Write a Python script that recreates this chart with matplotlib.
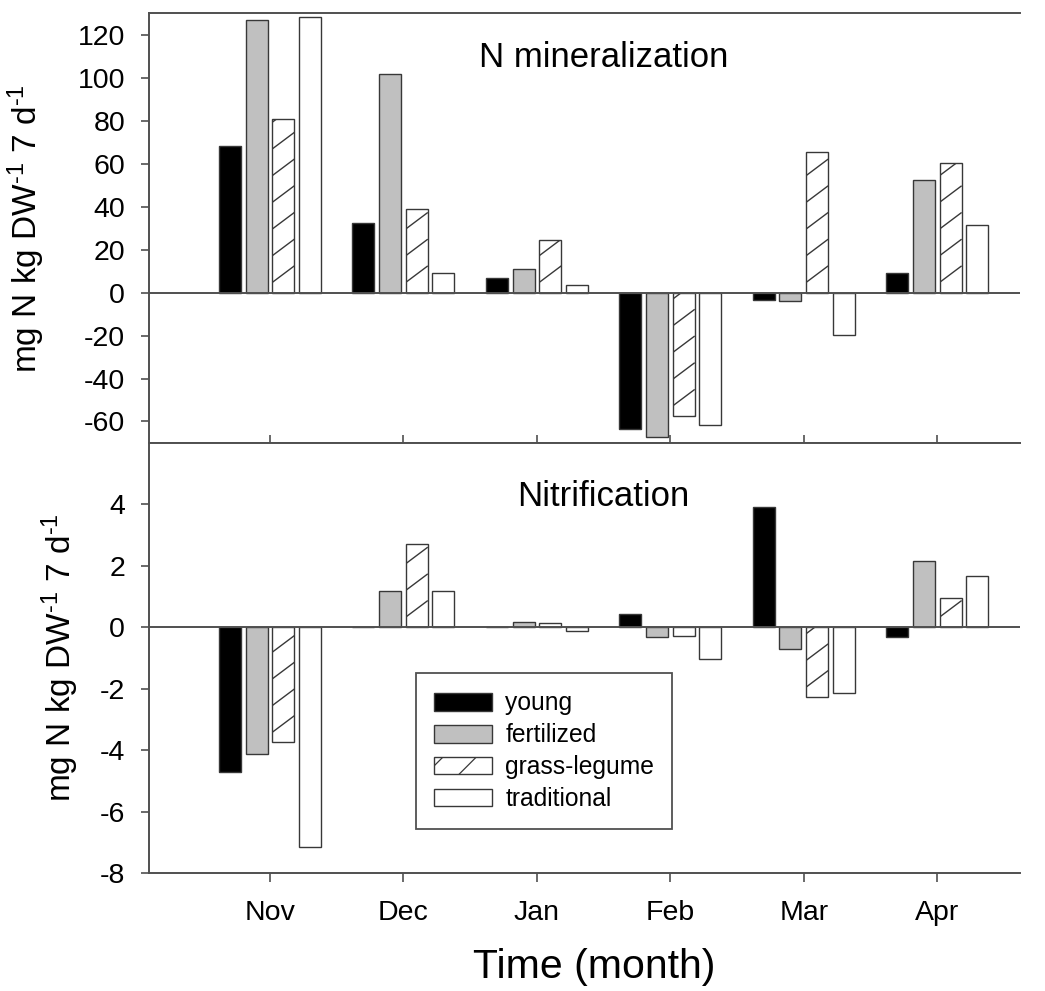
import numpy as np
import matplotlib
matplotlib.use("Agg")
import matplotlib.pyplot as plt
from matplotlib.collections import LineCollection
from matplotlib.transforms import IdentityTransform
from matplotlib.patches import Patch

plt.rcParams["font.family"] = ["Liberation Sans", "DejaVu Sans"]
plt.rcParams["mathtext.fontset"] = "custom"
plt.rcParams["mathtext.rm"] = "Liberation Sans"
plt.rcParams["mathtext.it"] = "Liberation Sans:italic"
plt.rcParams["mathtext.default"] = "regular"
plt.rcParams["axes.unicode_minus"] = False
plt.rcParams["hatch.linewidth"] = 0.9

# ---- data -------------------------------------------------------------
months = ["Nov", "Dec", "Jan", "Feb", "Mar", "Apr"]
treatments = ["young", "fertilized", "grass-legume", "traditional"]

mineral_young = [68.0, 32.6, 6.8, -63.4, -3.6, 9.0]
mineral_fertilized = [127.1, 101.6, 11.2, -67.3, -4.1, 52.4]
mineral_grass_legume = [80.8, 38.8, 24.4, -57.5, 65.3, 60.4]
mineral_traditional = [128.2, 9.0, 3.4, -61.7, -19.9, 31.4]

nitri_young = [-4.70, 0.0, 0.0, 0.44, 3.93, -0.33]
nitri_fertilized = [-4.12, 1.18, 0.16, -0.33, -0.70, 2.17]
nitri_grass_legume = [-3.75, 2.71, 0.13, -0.29, -2.28, 0.96]
nitri_traditional = [-7.14, 1.18, -0.13, -1.04, -2.14, 1.66]

mineral_ticks = [-60, -40, -20, 0, 20, 40, 60, 80, 100, 120]
nitri_ticks = [-8, -6, -4, -2, 0, 2, 4]

# ---- styling ------------------------------------------------------------
EDGE = "#383838"
AXC = "#505050"
faces = ["black", "#c0c0c0", "white", "white"]
TICK_FS = 20.5
plt.rcParams["hatch.color"] = EDGE

fig = plt.figure(figsize=(10.45, 9.91), dpi=100)
ax1 = fig.add_axes([0.1429, 0.5530, 0.8332, 0.4336])
ax2 = fig.add_axes([0.1429, 0.1191, 0.8332, 0.4339])

x = np.arange(len(months))
step = 0.2
width = 0.165
offsets = (np.arange(len(treatments)) - 1.5) * step


def draw_panel(ax, series, ylim, yticks):
    groups = []
    for i, vals in enumerate(series):
        bars = ax.bar(x + offsets[i], vals, width=width, color=faces[i],
                      edgecolor=EDGE, linewidth=1.0, zorder=2)
        groups.append(bars)
    ax.axhline(0, color=AXC, linewidth=1.4, zorder=3)
    ax.set_xlim(-0.904, 5.62)
    ax.set_ylim(*ylim)
    ax.set_yticks(yticks)
    ax.set_yticklabels([str(t) for t in yticks])
    ax.spines["right"].set_visible(False)
    for s in ["left", "top", "bottom"]:
        ax.spines[s].set_color(AXC)
        ax.spines[s].set_linewidth(1.4)
    ax.tick_params(axis="y", direction="out", length=5.5, width=1.2,
                   color=AXC, labelsize=TICK_FS, pad=12)
    ax.set_xticks(x)
    return groups


g1 = draw_panel(ax1, [mineral_young, mineral_fertilized,
                      mineral_grass_legume, mineral_traditional],
                (-70, 130), mineral_ticks)
g2 = draw_panel(ax2, [nitri_young, nitri_fertilized,
                      nitri_grass_legume, nitri_traditional],
                (-8, 6), nitri_ticks)

ax1.tick_params(axis="x", direction="inout", length=11.5, width=1.2,
                color=AXC, labelbottom=False)
ax2.tick_params(axis="x", direction="out", length=6.5, width=1.2,
                color=AXC, labelsize=TICK_FS, pad=13)
ax2.set_xticklabels(months)

ylab = r"mg N kg DW$^{\text{-1}}$ 7 d$^{\text{-1}}$"
ax1.set_ylabel(ylab, fontsize=24)
ax2.set_ylabel(ylab, fontsize=24)
ax1.yaxis.set_label_coords(-0.1175, 0.5)
ax2.yaxis.set_label_coords(-0.0790, 0.5)

ax1.text(0.522, 0.898, "N mineralization", transform=ax1.transAxes,
         ha="center", va="center", fontsize=25)
ax2.text(0.521, 0.876, "Nitrification", transform=ax2.transAxes,
         ha="center", va="center", fontsize=25)

fig.text(0.569, 0.0135, "Time (month)", ha="center", va="baseline",
         fontsize=29.5)


# sparse diagonal hatching for the grass-legume bars
def add_hatch(ax, bars, spacing=26.7, slope=0.75):
    for rect in bars:
        if rect.get_height() == 0:
            continue
        bb = rect.get_window_extent()
        x0, x1, y0, y1 = bb.x0, bb.x1, bb.y0, bb.y1
        rise = slope * (x1 - x0)
        starts = np.arange(y0 - rise - spacing, y1 + spacing, spacing)
        segs = [[(x0, c), (x1, c + rise)] for c in starts]
        lc = LineCollection(segs, colors=EDGE, linewidths=1.0,
                            transform=IdentityTransform(), zorder=2.1)
        ax.add_collection(lc, autolim=False)
        lc.set_clip_path(rect)


add_hatch(ax1, g1[2])
add_hatch(ax2, g2[2])

handles = [
    Patch(facecolor=faces[0], edgecolor=EDGE, linewidth=1.0),
    Patch(facecolor=faces[1], edgecolor=EDGE, linewidth=1.0),
    Patch(facecolor=faces[2], edgecolor=EDGE, linewidth=1.0, hatch="/"),
    Patch(facecolor=faces[3], edgecolor=EDGE, linewidth=1.0),
]
leg = ax2.legend(handles, treatments, loc="upper left",
                 bbox_to_anchor=(0.306, 0.464), borderaxespad=0,
                 fontsize=17.7, handlelength=2.36, handleheight=0.73,
                 handletextpad=0.55, borderpad=0.73, labelspacing=0.32,
                 frameon=True, fancybox=False, framealpha=1)
leg.get_frame().set_edgecolor(AXC)
leg.get_frame().set_linewidth(1.3)

fig.savefig("out.png", dpi=100)
